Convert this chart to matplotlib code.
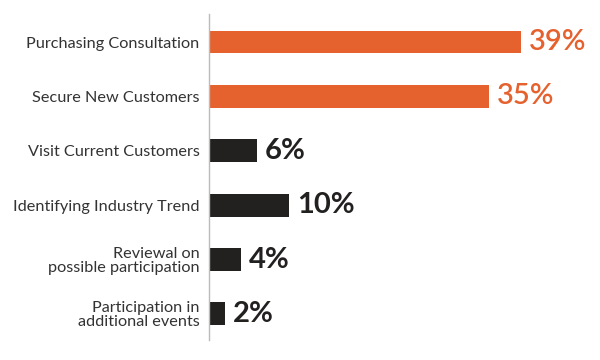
import matplotlib.pyplot as plt

categories = ["Purchasing Consultation", "Secure New Customers", "Visit Current Customers",
              "Identifying Industry Trend", "Reviewal on\npossible participation",
              "Participation in\nadditional events"]
values = [39, 35, 6, 10, 4, 2]
highlight = [True, True, False, False, False, False]

orange = "#E5612E"
dark = "#222120"

fig = plt.figure(figsize=(6, 3.6), dpi=100)
ax = fig.add_axes([0.349, 0.0556, 0.633, 0.9055])

ypos = list(range(len(categories)))
colors = [orange if h else dark for h in highlight]
ax.barh(ypos, values, height=0.42, color=colors, zorder=2)

for y, v, h in zip(ypos, values, highlight):
    ax.annotate(f"{v}%", (v, y), xytext=(5.5, 0), textcoords="offset points",
                va="center", ha="left", fontsize=21, family="Lato",
                fontweight="semibold" if h else "bold",
                color=orange if h else dark)

ax.set_xlim(0, 47.5)
ax.set_ylim(5.48, -0.515)
ax.set_yticks(ypos)
ax.set_yticklabels(categories, family="Lato", fontsize=11.7, color="#333333",
                   linespacing=1.0)
ax.tick_params(axis="y", length=0, pad=7)
ax.set_xticks([])
for s in ["top", "right", "bottom"]:
    ax.spines[s].set_visible(False)
ax.spines["left"].set_color("#bbbbbb")
ax.spines["left"].set_linewidth(1)

fig.savefig("out.png", dpi=100)
